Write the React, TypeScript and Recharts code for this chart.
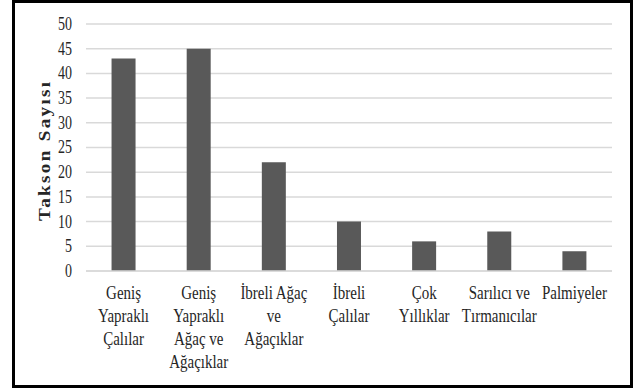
import React from "react";
import { BarChart, Bar, XAxis, YAxis, CartesianGrid } from "recharts";

const categories = [
  "Geniş Yapraklı Çalılar",
  "Geniş Yapraklı Ağaç ve Ağaçıklar",
  "İbreli Ağaç ve Ağaçıklar",
  "İbreli Çalılar",
  "Çok Yıllıklar",
  "Sarılıcı ve Tırmanıcılar",
  "Palmiyeler",
];

const tickLines = [
  ["Geniş", "Yapraklı", "Çalılar"],
  ["Geniş", "Yapraklı", "Ağaç ve", "Ağaçıklar"],
  ["İbreli Ağaç", "ve", "Ağaçıklar"],
  ["İbreli", "Çalılar"],
  ["Çok", "Yıllıklar"],
  ["Sarılıcı ve", "Tırmanıcılar"],
  ["Palmiyeler"],
];

const taksonValues = [43, 45, 22, 10, 6, 8, 4];

const yTicks = [0, 5, 10, 15, 20, 25, 30, 35, 40, 45, 50];

const yAxisTitle = "Takson Sayısı";

const data = categories.map((c, i) => ({ name: c, value: taksonValues[i], idx: i }));

const FONT = '"Liberation Serif", "Times New Roman", serif';
const STRETCH = 1.3;

const XTick = (props: any) => {
  const { x, y, index } = props;
  const lines = tickLines[index] || [];
  return (
    <g transform={`translate(${x},${y + 28}) scale(1,${STRETCH})`}>
      <text textAnchor="middle" fontFamily={FONT} fontSize={15} fill="#262626">
        {lines.map((l, i) => (
          <tspan key={i} x={0} y={i * (23 / STRETCH)}>
            {l}
          </tspan>
        ))}
      </text>
    </g>
  );
};

const YTick = (props: any) => {
  const { x, y, payload } = props;
  return (
    <g transform={`translate(${x},${y}) scale(1,${STRETCH})`}>
      <text x={0} y={4.6} textAnchor="end" fontFamily={FONT} fontSize={14} fill="#262626">
        {payload.value}
      </text>
    </g>
  );
};

const YLabel = (props: any) => {
  const { viewBox } = props;
  const cx = viewBox.x + 44.5;
  const cy = viewBox.y + viewBox.height / 2 + 4;
  return (
    <g transform={`translate(${cx},${cy}) rotate(-90) scale(1.2,1)`}>
      <text
        x={0}
        y={5.5}
        textAnchor="middle"
        fontFamily={FONT}
        fontSize={16}
        fontWeight="bold"
        fill="#262626"
        textLength={116}
        lengthAdjust="spacing"
      >
        {yAxisTitle}
      </text>
    </g>
  );
};

export default function App() {
  return (
    <div style={{ position: "absolute", left: 0, top: 0, width: 636, height: 389, background: "#fff" }}>
      <div
        style={{
          position: "absolute",
          left: 12,
          top: 0,
          width: 621,
          height: 388,
          border: "3px solid #000",
          boxSizing: "border-box",
        }}
      />
      <div style={{ position: "absolute", left: 0, top: 0 }}>
        <BarChart
          width={636}
          height={389}
          data={data}
          margin={{ top: 24, right: 24, left: 0, bottom: 0 }}
          barCategoryGap="34%"
        >
          <CartesianGrid vertical={false} stroke="#d9d9d9" strokeWidth={1.5} />
          <XAxis
            dataKey="name"
            interval={0}
            tickLine={false}
            tickSize={0}
            tickMargin={0}
            axisLine={{ stroke: "#d9d9d9", strokeWidth: 1.5 }}
            tick={<XTick />}
            height={118}
          />
          <YAxis
            width={86}
            domain={[0, 50]}
            ticks={yTicks}
            interval={0}
            axisLine={false}
            tickLine={false}
            tickSize={0}
            tickMargin={14}
            tick={<YTick />}
            label={{ content: <YLabel /> }}
          />
          <Bar dataKey="value" fill="#595959" isAnimationActive={false} />
        </BarChart>
      </div>
    </div>
  );
}
